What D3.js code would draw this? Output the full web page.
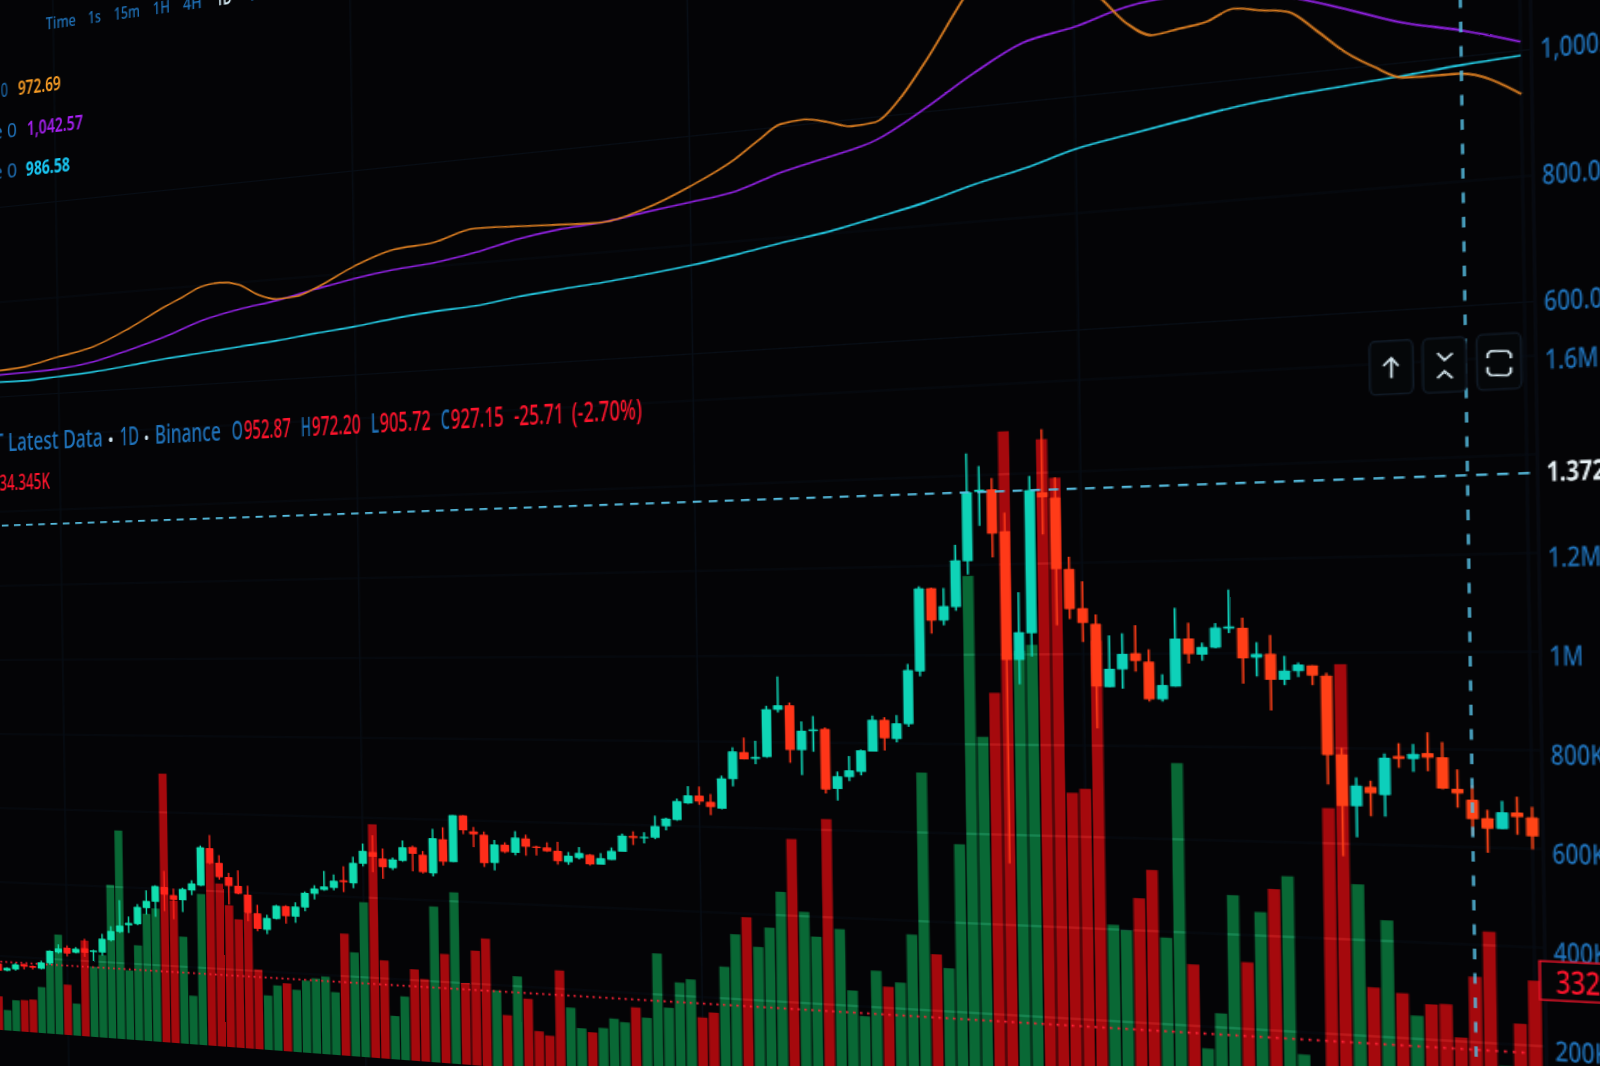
<!DOCTYPE html>
<html><head><meta charset="utf-8">
<script src="https://cdn.jsdelivr.net/npm/d3@7/dist/d3.min.js"></script>
<style>
html,body{margin:0;padding:0;width:1600px;height:1066px;overflow:hidden;background:#040406}
#plane{position:absolute;left:0;top:0;overflow:visible;transform-origin:0 0}
text{font-family:"Noto Sans",sans-serif}
</style></head><body>
<svg id="plane" width="1600" height="1066"></svg>
<script>
// ---------- data ----------
const opens=[618,606,609,619,617,613,623,643,652,644,
653,647,647,669,684,696,699,727,738,764,
751,743,760,769,832,808,785,771,757,727,
700,719,741,724,740,763,770,774,787,783,
815,835,825,810,822,845,833,804,859,823,
898,873,868,824,853,841,864,852,851,846,
829,836,842,827,835,848,873,870,871,889,
899,925,937,928,918,963,1004,994,997,1068,
1075,1008,1037,1040,951,969,977,1007,1054,1026,
1048,1125,1246,1199,1218,1284,1384,1387,1326,1141,
1179,1380,1372,1270,1214,1192,1102,1127,1150,1138,
1085,1103,1170,1147,1157,1183,1184,1143,1148,1112,
1124,1132,1118,1011,941,968,957,1010,1006,1014,
1009,967,952.87,929,915,937,931];
const closes=[605,611,618,615,614,624,645,650,642,651,
645,650,671,685,695,700,728,739,765,751,
743,762,772,833,807,784,770,758,726,701,
720,741,724,741,764,772,776,786,784,816,
836,827,811,824,844,834,805,860,823,898,
874,868,823,853,842,865,851,850,845,830,
839,844,827,837,849,873,870,872,889,901,
928,937,928,920,964,1005,993,997,1069,1075,
1008,1037,1039,950,970,979,1009,1054,1027,1049,
1127,1246,1199,1220,1286,1384,1387,1323,1141,1181,
1384,1373,1270,1213,1193,1103,1128,1149,1139,1085,
1105,1170,1148,1158,1185,1186,1142,1148,1112,1125,
1133,1118,1010,941,969,959,1007,1006,1013,1008,
967,961,927.15,915,937,931,906];
const highs=[620,612,620,620,618,627,646,657,656,654,
669,651,679,693,738,711,733,757,766,791,
762,764,777,836,854,821,792,797,772,741,
725,742,742,748,766,777,801,796,810,826,
848,862,841,827,855,847,839,875,878,898,
898,880,873,860,857,875,870,853,859,860,
845,853,843,845,854,876,880,879,905,902,
932,951,951,940,968,1011,1026,1021,1074,1118,
1079,1051,1059,1042,977,1000,1010,1060,1058,1061,
1136,1249,1247,1246,1308,1440,1421,1403,1353,1238,
1404,1470,1401,1287,1252,1205,1175,1178,1189,1155,
1120,1213,1192,1164,1191,1237,1198,1164,1174,1145,
1136,1132,1122,1020,980,976,1013,1027,1026,1042,
1029,993,972.20,940,952,958,945];
const lows=[603,605,607,610,611,612,621,641,637,643,
638,631,642,667,682,683,697,716,713,723,
710,723,752,768,805,780,739,757,713,697,
693,718,712,714,734,754,769,770,768,775,
811,802,792,807,821,806,803,799,817,823,
868,848,817,812,840,837,837,838,844,825,
825,834,825,827,835,848,859,862,869,883,
898,924,923,908,917,952,993,986,996,1064,
989,971,1006,944,934,963,972,1007,1009,1021,
1044,1118,1180,1192,1213,1265,1335,1289,849,1106,
1146,1320,1190,1199,1166,1044,1102,1100,1124,1082,
1082,1103,1135,1139,1156,1177,1107,1117,1070,1105,
1116,1105,970,873,899,928,928,994,989,990,
966,942,905.72,883,915,908,889];
const volumesK=[91,55,83,85,88,123,187,266,134,85,
254,186,218,405,549,182,249,333,348,701,
371,278,126,391,474,420,365,330,346,204,
139,166,173,158,183,190,196,158,307,261,
388,584,245,108,158,227,204,385,269,422,
200,281,312,187,128,224,171,94,85,244,
156,108,100,112,136,129,166,143,297,170,
231,240,152,165,274,351,392,324,370,454,
577,410,354,625,374,235,178,283,248,259,
369,735,327,297,576,1176,817,915,1495,1008,
1021,1474,1388,696,705,1029,410,399,470,532,
387,764,332,153,230,484,342,450,500,528,
153,90,674,976,516,302,443,293,248,273,
275,208,334.345,428,155,243,332.1];
const maIndex=[0,4,8,12,16,20,24,28,32,36,40,44,48,52,56,60,64,68,72,76,80,84,88,92,96,100,104,108,112,116,120,124,128,132,136];
const maMid=[646,648,651,661,680,702,729,746,758,774,789,800,807,820,838,850,856,868,879,891,918,937,959,1005,1058,1102,1119,1143,1151,1149,1128,1098,1065,1042.57,1014];
const maSlow=[632,631,635,640,648,657,664,671,678,687,695,705,713,718,729,737,744,753,763,776,791,804,822,841,865,885,910,926,941,955,965,972,979,986.58,992];
const maFastIndex=[0,4,8,12,16,20,22,24,26,28,30,32,34,36,40,44,48,52,56,60,64,68,72,76,78,80,82,84,86,88,90,92,96,100,104,106,108,110,112,114,116,118,120,122,124,126,128,132,136];
const maFast=[655,660,676,692,724,763,780,798,803,796,773,761,763,776,813,839,846,866,863,859,856,875,908,950,979,1005,1009,1000,988,991,1027,1083,1210,1299,1202,1165,1116,1090,1096,1102,1119,1111,1103,1067,1027,998,976,972.69,931];
const volumeMeanK=185;
const crossVolumeK=1372;
const crossIndex=132;
const volumeTicks=[200,400,600,800,1000,1200,1400,1600];
const volumeTickLabels={200:"200K",400:"400K",600:"600K",800:"800K",1000:"1M",1200:"1.2M",1400:"",1600:"1.6M"};
const priceTicks=[600,800,1000];
const priceTickLabels={600:"600.00",800:"800.00",1000:"1,000.00"};
const timeLabels=["Time","1s","15m","1H","4H","1D","1W"];
const lastVolumeLabel="332.1K";

// ---------- camera: the flat chart plane is photographed at an angle ----------
const A=-1/4631, D=-0.1479, B=0.015, C=-14;
d3.select("#plane").style("transform",
 `matrix3d(1,${D},0,${A}, ${B},1,0,0, 0,0,1,0, ${C},0,0,1)`);
function flat(x,y){let u=x,v=y;for(let k=0;k<6;k++){const w=1+A*u;u=x*w-B*v-C;v=y*w-D*u;}return [u,v];}
const uAt=(x,v)=>(x-B*v-C)/(1-A*x);

// ---------- scales ----------
const svg=d3.select("#plane");
const x=d3.scaleLinear().domain([0,136]).range([-2,1153]);
const yCandle=d3.scaleLinear().domain([600,1500]).range([973.7,459.4]);
const yVol=d3.scaleLinear().domain([0,1600]).range([1030,438]);
const yMa=d3.scaleLinear().domain([600,1000]).range([397.5,208.5]);
const tint=(a,b)=>d3.scaleLinear().domain([0,136]).range([a,b]).interpolate(d3.interpolateRgb);
const upCol=tint("#12e2ad","#0dcdbc"), dnCol=tint("#ff1e1c","#ff4416");
const idx=d3.range(opens.length);
const up=i=>closes[i]>=opens[i];
const crossNudge=3.5;

// ---------- faint grid ----------
const g0=svg.append("g").attr("stroke","#070d15").attr("stroke-width",1.2);
g0.selectAll("line.h").data(volumeTicks).join("line").attr("x1",-40).attr("x2",1158).attr("y1",d=>yVol(d)).attr("y2",d=>yVol(d));
g0.selectAll("line.p").data(priceTicks).join("line").attr("x1",-40).attr("x2",1158).attr("y1",d=>yMa(d)).attr("y2",d=>yMa(d));
g0.selectAll("line.v").data(d3.range(8,137,32)).join("line").attr("x1",d=>x(d)).attr("x2",d=>x(d)).attr("y1",-60).attr("y2",1120);
svg.append("line").attr("x1",1159).attr("x2",1159).attr("y1",-60).attr("y2",1120).attr("stroke","#080d14").attr("stroke-width",1.5);

// ---------- volume bars ----------
const barW=7.5;
const defs=svg.append("defs");
[["clipUp",true],["clipDn",false]].forEach(([id,dir])=>{
 defs.append("clipPath").attr("id",id).selectAll("rect").data(idx.filter(i=>up(i)===dir)).join("rect")
  .attr("x",i=>x(i)-barW/2).attr("width",barW).attr("y",i=>yVol(volumesK[i])).attr("height",i=>yVol(0)-yVol(volumesK[i]));
});
svg.append("g").selectAll("rect").data(idx).join("rect")
 .attr("x",i=>x(i)-barW/2).attr("width",barW)
 .attr("y",i=>yVol(volumesK[i])).attr("height",i=>yVol(0)-yVol(volumesK[i]))
 .attr("fill",i=>up(i)?"#096835":"#a5090d");
[["clipUp","#46d8a4"],["clipDn","#ff4a44"]].forEach(([id,c])=>{
 svg.append("g").attr("clip-path",`url(#${id})`).attr("stroke",c).attr("stroke-width",1).attr("stroke-opacity",.5)
  .selectAll("line").data(volumeTicks).join("line").attr("x1",-40).attr("x2",1158).attr("y1",d=>yVol(d)).attr("y2",d=>yVol(d));
});
// volume mean, dotted
svg.append("line").attr("x1",-40).attr("x2",1150).attr("y1",yVol(volumeMeanK)).attr("y2",yVol(volumeMeanK))
 .attr("stroke","#ff2236").attr("stroke-width",1.7).attr("stroke-dasharray","1.6 3.4");

// ---------- candles ----------
const cW=7;
const cg=svg.append("g");
cg.selectAll("line").data(idx).join("line")
 .attr("x1",i=>x(i)).attr("x2",i=>x(i)).attr("y1",i=>yCandle(highs[i])).attr("y2",i=>yCandle(lows[i]))
 .attr("stroke",i=>up(i)?upCol(i):dnCol(i)).attr("stroke-width",1.35);
cg.selectAll("rect").data(idx).join("rect")
 .attr("x",i=>x(i)-cW/2).attr("width",cW).attr("rx",.6)
 .attr("y",i=>yCandle(Math.max(opens[i],closes[i])))
 .attr("height",i=>Math.max(1.3,Math.abs(yCandle(opens[i])-yCandle(closes[i]))))
 .attr("fill",i=>up(i)?upCol(i):dnCol(i));

// ---------- moving averages ----------
const lineOf=(keys,vals)=>d3.line().x((d,k)=>x(keys[k])).y(d=>yMa(d)).curve(d3.curveMonotoneX)(vals);
[[maIndex,maSlow,"#23c6de"],[maIndex,maMid,"#8f20e0"],[maFastIndex,maFast,"#d97c20"]].forEach(([keys,vals,c])=>{
 svg.append("path").attr("d",lineOf(keys,vals)).attr("fill","none").attr("stroke",c).attr("stroke-width",1.6);
});

// ---------- crosshair ----------
const hair="#56bde0";
svg.append("line").attr("x1",-40).attr("x2",1159).attr("y1",yVol(crossVolumeK)+crossNudge).attr("y2",yVol(crossVolumeK)+crossNudge)
 .attr("stroke",hair).attr("stroke-width",1.8).attr("stroke-dasharray","6.5 5.5");
svg.append("line").attr("x1",x(crossIndex)).attr("x2",x(crossIndex)).attr("y1",-40).attr("y2",1120)
 .attr("stroke",hair).attr("stroke-width",1.6).attr("stroke-dasharray","8 10.5");

// ---------- small buttons ----------
const btn=svg.append("g");
function button(x0,y0,x1,y1){const [u0,v0]=flat(x0,y0),[u1,v1]=flat(x1,y1);
 btn.append("rect").attr("x",u0).attr("y",v0).attr("width",u1-u0).attr("height",v1-v0).attr("rx",3).attr("ry",6)
  .attr("fill","#050709").attr("stroke","#101a26").attr("stroke-width",1.3);}
button(1369,342,1413,393);button(1422,339,1466,391);button(1476,335,1521,388);
const path2=(pts,closed)=>d3.line().curve(closed?d3.curveLinearClosed:d3.curveLinear)(pts.map(p=>flat(p[0],p[1])));
const icon=(pts,closed)=>btn.append("path").attr("d",path2(pts,closed)).attr("fill","none").attr("stroke","#d4e6ee").attr("stroke-width",1.5);
icon([[1391,358],[1391,378]]);icon([[1383,366],[1391,358],[1398,366]]);
icon([[1437,353],[1444,360],[1452,353]]);icon([[1437,378],[1444,371],[1452,378]]);
icon([[1487,358],[1487,354],[1490,351],[1507,351],[1510,354],[1510,358]]);
icon([[1487,367],[1487,372],[1490,375],[1507,375],[1510,372],[1510,367]]);

// ---------- text ----------
const blue="#1f72ba", red="#ff142c";
function label(t,x0,x1,v,size,color,weight){
 const u0=uAt(x0,v),u1=uAt(x1,v);
 svg.append("text").attr("x",u0).attr("y",v).attr("font-size",size).attr("fill",color)
  .attr("font-weight",weight||400).attr("textLength",u1-u0).attr("lengthAdjust","spacingAndGlyphs").text(t);
}
const topSpans=[[46,76],[88,101],[114,140],[153,170],[183,202],[216,232],[248,268]];
timeLabels.forEach((t,k)=>label(t,topSpans[k][0],topSpans[k][1],38,17,t==="1D"?"#d6ecf6":blue,t==="1D"?600:500));
const fastAt=maFast[maFastIndex.indexOf(crossIndex)], midAt=maMid[maIndex.indexOf(crossIndex)], slowAt=maSlow[maIndex.indexOf(crossIndex)];
label("0",1,8,99,20,blue);
label(fastAt.toFixed(2),18,61,99,20,"#f59a24",600);
label("e 0",-7,17,140,20,blue);
label(d3.format(",.2f")(midAt),27,83,140,20,"#a51ff0",600);
label("e 0",-7,17,180,20,blue);
label(slowAt.toFixed(2),26,70,180,20,"#19c9f6",700);

const hv=452;
label("T Latest Data",-6,103,hv,25,blue,500);
label("•",108,114,hv,18,"#cfe6f2");
label("1D",120,139,hv,25,blue,500);
label("•",144,149,hv,18,"#cfe6f2");
label("Binance",155,221,hv,25,blue,500);
label("O",232,243,hv,25,blue,500);
label(opens[crossIndex].toFixed(2),244,291,hv,25,red,500);
label("H",301,311,hv,25,blue,500);
label(highs[crossIndex].toFixed(2),312,361,hv,25,red,500);
label("L",371,379,hv,25,blue,500);
label(lows[crossIndex].toFixed(2),380,431,hv,25,red,500);
label("C",441,450,hv,25,blue,500);
label(closes[crossIndex].toFixed(2),451,504,hv,25,red,500);
label("-25.71",514,564,hv,25,red,500);
label("(-2.70%)",572,642,hv,25,red,500);
label(volumesK[crossIndex].toFixed(3)+"K",-8,50,491,21,red,500);

// axes
const uAxis=1164;
const tSx=0.61;
function styleAxis(dy){return g=>{
 g.select(".domain").remove();g.selectAll(".tick line").remove();
 g.selectAll(".tick text").attr("x",0).attr("dy",dy).attr("font-size",21).attr("font-weight",500).attr("fill",blue)
  .attr("font-family",'"Noto Sans",sans-serif').attr("transform",`scale(${tSx},1)`);
};}
svg.append("g").attr("transform",`translate(${uAxis},0)`)
 .call(d3.axisRight(yVol).tickValues(volumeTicks).tickFormat(d=>volumeTickLabels[d])).call(styleAxis(".48em"));
svg.append("g").attr("transform",`translate(${uAxis},0)`)
 .call(d3.axisRight(yMa).tickValues(priceTicks).tickFormat(d=>priceTickLabels[d])).call(styleAxis(".32em"));
svg.append("g").attr("transform",`translate(${uAxis},${yVol(crossVolumeK)})`).append("text")
 .attr("dy",".48em").attr("font-size",21).attr("font-weight",700).attr("fill","#e6f0f4")
 .attr("transform",`scale(${tSx},1)`).text("1.372M");
// last-volume tag
const tagV=yVol(volumesK[136]);
svg.append("rect").attr("x",uAxis-8).attr("y",tagV-15).attr("width",70).attr("height",29)
 .attr("fill","#050507").attr("stroke","#f0142a").attr("stroke-width",1.3);
svg.append("g").attr("transform",`translate(${uAxis+1},${tagV})`).append("text")
 .attr("dy",".36em").attr("font-size",24).attr("font-weight",500).attr("fill",red).attr("transform",`scale(.6,1)`).text(lastVolumeLabel);
</script>
</body></html>
